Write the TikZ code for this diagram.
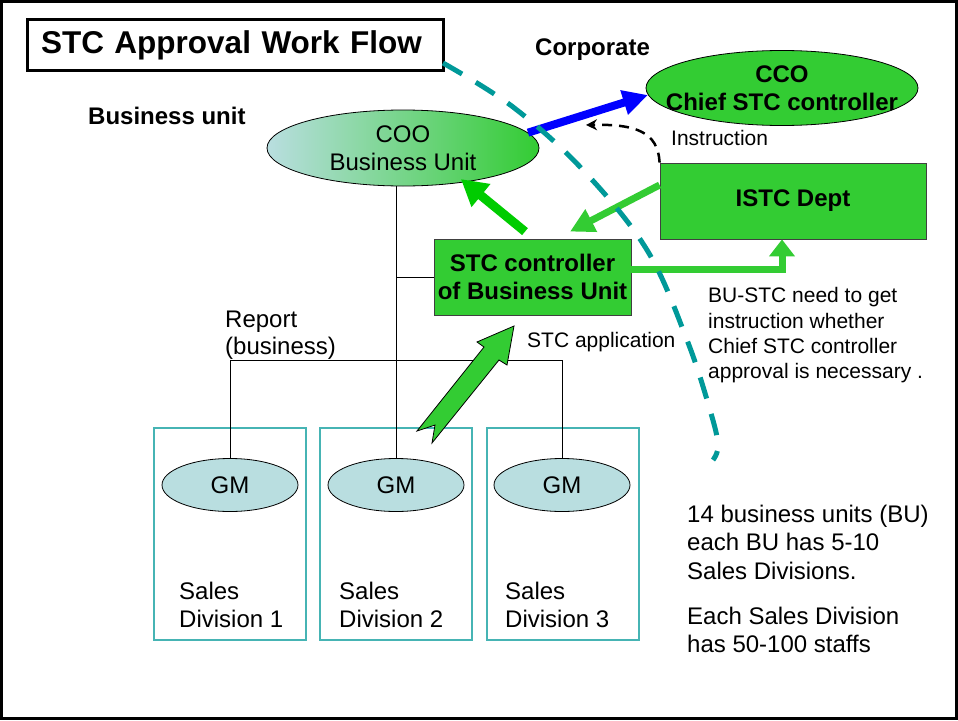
\documentclass[tikz,border=0pt]{standalone}
\usepackage{fontspec}
\setmainfont{Liberation Sans}
\usetikzlibrary{shapes.geometric, arrows.meta, calc}
\definecolor{stcgreen}{RGB}{51,204,51}
\definecolor{arrgreen}{RGB}{0,204,0}
\definecolor{paleblue}{RGB}{185,222,224}
\definecolor{tealline}{RGB}{0,153,153}
\definecolor{tealbox}{RGB}{70,180,180}
\begin{document}
\begin{tikzpicture}[x=1pt,y=-1pt,
  ttl/.style={font=\fontsize{31.5}{36}\selectfont\bfseries},
  bt/.style={font=\fontsize{24}{28}\selectfont\bfseries},
  nt/.style={font=\fontsize{24}{28.5}\selectfont},
  st/.style={font=\fontsize{21}{25.3}\selectfont},
  oval/.style={ellipse, draw=black, line width=0.8pt, inner sep=0pt},
  greenbox/.style={rectangle, draw=black!75, line width=0.8pt, fill=stcgreen, inner sep=0pt},
  divbox/.style={rectangle, draw=tealbox, line width=1.2pt, minimum width=152, minimum height=212, inner sep=0pt},
  thin/.style={draw=black, line width=0.9pt},
  fatarrow/.style={line width=#1},
  txt/.style={inner sep=0pt}
]
\useasboundingbox (0,0) rectangle (958,720);
\draw[line width=3pt] (1.5,1.5) rectangle (956.5,718.5);

% title
\node[draw, line width=3pt, anchor=west, text width=388, align=left, inner xsep=14pt, inner ysep=0pt, minimum height=51, ttl] (title) at (25.5,45) {STC Approval Work Flow};

% headings
\node[txt, bt, anchor=base west] (bu) at (88,124) {Business unit};
\node[txt, bt, anchor=base west] (corp) at (535,55) {Corporate};

% ellipses
\node[oval, minimum width=272, minimum height=76, left color=paleblue, right color=stcgreen] (coo) at (403,148) {};
\node[txt, nt, align=center] (cootxt) at (coo) {COO\\Business Unit};
\node[oval, minimum width=272, minimum height=75, fill=stcgreen] (cco) at (782,88) {};
\node[txt, bt, align=center] (ccotxt) at (cco) {CCO\\Chief STC controller};

% boxes
\node[greenbox, minimum width=266, minimum height=76] (istc) at (793,201) {};
\node[txt, bt] (istctxt) at (istc) {ISTC Dept};
\node[greenbox, minimum width=197, minimum height=76] (stc) at (532.5,277) {};
\node[txt, bt, align=center, font=\fontsize{24}{27.5}\selectfont\bfseries] (stctxt) at (stc) {STC controller\\of Business Unit};

% divisions
\node[divbox] (d1) at (230,534) {};
\node[divbox] (d2) at (396,534) {};
\node[divbox] (d3) at (563,534) {};
\node[oval, fill=paleblue, minimum width=136, minimum height=53] (gm1) at (230,485) {};
\node[oval, fill=paleblue, minimum width=136, minimum height=53] (gm2) at (396,485) {};
\node[oval, fill=paleblue, minimum width=136, minimum height=53] (gm3) at (562,485) {};
\node[txt, nt] (gm1t) at (gm1) {GM};
\node[txt, nt] (gm2t) at (gm2) {GM};
\node[txt, nt] (gm3t) at (gm3) {GM};
\node[txt, nt, align=left, anchor=west] (s1) at (179,605) {Sales\\Division 1};
\node[txt, nt, align=left, anchor=west] (s2) at (339,605) {Sales\\Division 2};
\node[txt, nt, align=left, anchor=west] (s3) at (505,605) {Sales\\Division 3};

% thin connectors
\coordinate (rl) at (0,360);
\draw[thin] (gm2.north) -- (gm2.north |- coo.south);
\draw[thin] (stc.west) -- (stc.west -| gm2.north);
\draw[thin] (gm1.north) -- (gm1.north |- rl) -| (gm3.north);

% labels
\node[txt, nt, align=left, anchor=west, font=\fontsize{24}{27}\selectfont] (report) at (225,335) {Report\\(business)};
\node[txt, st, anchor=base west] (app) at (527,347) {STC application};
\node[txt, st, anchor=base west] (instr) at (671,145) {Instruction};
\node[txt, st, align=left, anchor=west] (need) at (708,335.5) {BU-STC need to get\\instruction whether\\Chief STC controller\\approval is necessary .};
\node[txt, nt, align=left, anchor=west, font=\fontsize{24}{28.7}\selectfont] (facts) at (687,579) {14 business units (BU)\\each BU has 5-10\\Sales Divisions.\\[16pt]Each Sales Division\\has 50-100 staffs};

% arrows
\draw[blue, line width=8pt, -{Triangle[length=25pt, width=24pt]}] (coo.7) -- (cco.183);
\draw[arrgreen, line width=9pt, shorten >=-5pt, -{Triangle[length=26pt, width=28pt]}] ([xshift=-7.5pt, yshift=7pt]stc.north) -- (coo.-29);
\draw[stcgreen, line width=7pt, -{Triangle[length=24pt, width=24pt]}] ([yshift=16pt]istc.west) -- ([xshift=37.5pt, yshift=7pt]stc.north);
\draw[stcgreen, line width=7pt, -{Triangle[length=17pt, width=25pt]}] ([yshift=8pt]stc.east) -| ([xshift=-11pt]istc.south);
\coordinate (itip) at (586,125);
\draw[black, line width=2.5pt, dash pattern=on 10pt off 7pt, -{Stealth[length=11pt, width=11pt]}] (istc.north west) .. controls (658,132) and (636,124) .. (itip);

% block arrow (STC application)
\draw[fill=stcgreen, draw=black, line width=0.8pt, line join=miter]
  (514,326) -- (507,365) -- (499,360) -- (432,443) -- (435,425) -- (417,431) -- (484,347) -- (477,342) -- cycle;

% teal dashed boundary
\coordinate (tend) at (713,460);
\draw[tealline, line width=5pt, dash pattern=on 22pt off 16pt]
  ([yshift=-18pt]title.east) plot[smooth, tension=0.6] coordinates {(443,63) (513,107) (583,170) (647,250) (687,340) (710,410) (718,445) (713,460)};
\end{tikzpicture}
\end{document}
